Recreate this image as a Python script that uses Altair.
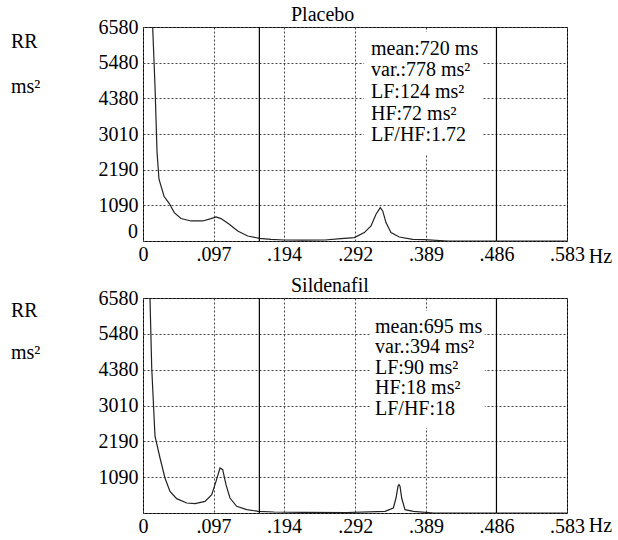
import altair as alt
import pandas as pd

FONT = "Liberation Serif"

freq_ticks = [0, 0.097, 0.194, 0.292, 0.389, 0.486, 0.583]
power_labels = ["", "1090", "2190", "3010", "4380", "5480", "6580"]
zero_label_top = ["0"]
unit_label = ["RR", "ms²"]
power_max = 6580
band_edges = [0.16, 0.486]

placebo_f = [0.0133, 0.0165, 0.0179, 0.0193, 0.0220, 0.0289, 0.0362, 0.0430, 0.0523, 0.0660,
             0.0821, 0.0935, 0.1004, 0.1072, 0.1187, 0.1302, 0.1440, 0.1599, 0.176, 0.194,
             0.22, 0.25, 0.2722, 0.2906, 0.3043, 0.3135, 0.3204, 0.3263, 0.3296, 0.3341,
             0.3410, 0.3524, 0.3708, 0.3868, 0.4190, 0.45, 0.50, 0.55, 0.583]
placebo_p = [6580, 4763, 3747, 2731, 1900, 1376, 1152, 874, 690, 616,
             616, 690, 739, 690, 514, 308, 154, 83, 52, 31,
             25, 30, 74, 105, 259, 462, 822, 1028, 924, 567,
             259, 123, 52, 43, 0, 0, 0, 0, 0]

sild_f = [0.0096, 0.0120, 0.0165, 0.0234, 0.0302, 0.0371, 0.0463, 0.0601, 0.0715, 0.0853,
          0.0945, 0.1004, 0.1059, 0.1096, 0.1141, 0.1196, 0.1288, 0.1426, 0.1585, 0.18,
          0.22, 0.28, 0.3328, 0.3442, 0.3479, 0.3506, 0.3520, 0.3534, 0.3557, 0.3602,
          0.3717, 0.40, 0.45, 0.50, 0.583]
sild_p = [6580, 4438, 2350, 1683, 1071, 663, 439, 306, 286, 357,
          561, 969, 1377, 1326, 867, 459, 204, 102, 51, 30,
          20, 15, 52, 153, 459, 817, 868, 817, 459, 102,
          51, 0, 0, 0, 0]

placebo_stats = ["mean:720 ms", "var.:778 ms²", "LF:124 ms²", "HF:72 ms²", "LF/HF:1.72"]
sild_stats = ["mean:695 ms", "var.:394 ms²", "LF:90 ms²", "HF:18 ms²", "LF/HF:18"]


def panel(title, f, p, stats, zero_label, box, text_xy, line_h, height, unit_y, unit_lh, hz_y):
    y_ticks = [power_max * k / 6 for k in range(7)]
    label_arr = "[" + ",".join("'%s'" % s for s in power_labels) + "]"
    xscale = alt.Scale(domain=[0, freq_ticks[-1]], nice=False, zero=False)
    yscale = alt.Scale(domain=[0, power_max], nice=False)

    xaxis = alt.Axis(
        values=freq_ticks, grid=True, ticks=False, domain=False,
        labelExpr="datum.value == 0 ? '0' : replace(format(datum.value, '.3f'), '0.', '.')",
        labelFont=FONT, labelFontSize=20, labelColor="black", labelPadding=3,
        labelFlush=False, labelOverlap=False,
        gridDash=[2, 2], gridColor="#444", gridOpacity=1, gridWidth=1,
        title="Hz", titleFont=FONT, titleFontSize=20, titleFontWeight="normal",
        titleColor="black", titleAngle=0, titleX=457, titleY=hz_y,
        titleAlign="center", titleBaseline="middle",
    )
    yaxis = alt.Axis(
        values=y_ticks, grid=True, ticks=False, domain=False,
        labelExpr=label_arr + "[round(datum.value * 6 / %d)]" % power_max,
        labelFont=FONT, labelFontSize=20, labelColor="black", labelPadding=5,
        labelFlush=False, labelOverlap=False,
        gridDash=[2, 2], gridColor="#444", gridOpacity=1, gridWidth=1,
        title=None,
    )

    df = pd.DataFrame({"f": f, "p": p})
    base_line = alt.Chart(df).mark_line(color="#222", strokeWidth=1.2, clip=True).encode(
        x=alt.X("f:Q", scale=xscale, axis=xaxis),
        y=alt.Y("p:Q", scale=yscale, axis=yaxis),
    )
    rules = alt.Chart(pd.DataFrame({"f": band_edges})).mark_rule(color="black", strokeWidth=1.2).encode(
        x=alt.X("f:Q", scale=xscale, axis=xaxis)
    )
    box_df = pd.DataFrame({"f": [box[0]], "f2": [box[1]], "p": [box[2]], "p2": [box[3]]})
    box_mark = alt.Chart(box_df).mark_rect(color="white").encode(
        x=alt.X("f:Q", scale=xscale, axis=xaxis), x2="f2:Q",
        y=alt.Y("p:Q", scale=yscale, axis=yaxis), y2="p2:Q",
    )
    txt_df = pd.DataFrame({"f": [text_xy[0]], "p": [text_xy[1]], "t": ["\n".join(stats)]})
    txt = alt.Chart(txt_df).mark_text(
        align="left", baseline="middle", font=FONT, fontSize=20, color="black",
        lineBreak="\n", lineHeight=line_h,
    ).encode(
        x=alt.X("f:Q", scale=xscale, axis=xaxis),
        y=alt.Y("p:Q", scale=yscale, axis=yaxis),
        text="t:N",
    )
    unit_df = pd.DataFrame({"t": ["\n".join(unit_label)]})
    unit_txt = alt.Chart(unit_df).mark_text(
        align="left", baseline="middle", font=FONT, fontSize=20, color="black",
        lineBreak="\n", lineHeight=unit_lh,
    ).encode(x=alt.value(-132), y=alt.value(unit_y), text="t:N")
    layers = [base_line, box_mark, rules, txt, unit_txt]
    if zero_label:
        zdf = pd.DataFrame({"f": [0.0], "p": [0.0], "t": zero_label})
        zero_txt = alt.Chart(zdf).mark_text(
            align="right", baseline="bottom", dx=-5, dy=1, font=FONT, fontSize=20, color="black",
        ).encode(
            x=alt.X("f:Q", scale=xscale, axis=xaxis),
            y=alt.Y("p:Q", scale=yscale, axis=yaxis),
            text="t:N",
        )
        layers.append(zero_txt)
    return alt.layer(*layers).properties(
        width=424, height=height,
        title=alt.TitleParams(title, anchor="start", frame="group", dx=148, font=FONT,
                              fontSize=20, fontWeight="normal", color="black", offset=-8),
    )


top = panel("Placebo", placebo_f, placebo_p, placebo_stats, zero_label_top,
            (0.304, 0.4675, 2670, 6426), (0.3135, 5912), 21.6, 214, 15, 45, 15)
bottom = panel("Sildenafil", sild_f, sild_p, sild_stats, [],
               (0.3135, 0.470, 2601, 6182), (0.319, 5700), 20.5, 215, 13, 42, 12)

chart = alt.vconcat(top, bottom, spacing=8).properties(
    padding={"left": 10, "top": 4, "right": 5, "bottom": 5},
    background="white",
).configure(
    font=FONT,
).configure_view(
    stroke="black", strokeWidth=1
).configure_axis(
    labelOverlap=False, labelFont=FONT, titleFont=FONT
).configure_text(
    font=FONT
).configure_title(
    font=FONT
)

chart.save("out.html", embed_options={"renderer": "svg", "actions": False})
